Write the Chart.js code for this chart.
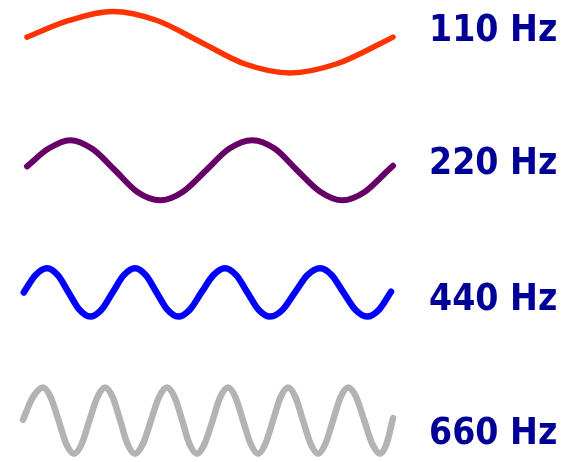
<!DOCTYPE html>
<html>
<head>
<meta charset="utf-8">
<script src="https://cdn.jsdelivr.net/npm/chart.js@4/dist/chart.umd.min.js"></script>
<style>
  html, body { margin: 0; padding: 0; background: #fff; }
  #wrap { width: 564px; height: 462px; position: relative; }
</style>
</head>
<body>
<div id="wrap"><canvas id="waves"></canvas></div>
<script>
// labels on the right
const freqLabels = ["110 Hz", "220 Hz", "440 Hz", "660 Hz"];

const t110 = [0, 1.05, 2.15, 3.25, 4.35, 5.45, 6.58, 7.73, 8.9, 9.15];
const v110 = [0.16, 0.68, 0.96, 0.68, 0, -0.68, -0.96, -0.68, 0, 0.16];

const t220 = [0, 0.53, 1.08, 1.63, 2.2, 2.75, 3.33, 3.9, 4.48, 5.05, 5.63, 6.2, 6.75, 7.33, 7.88, 8.45, 9.03, 9.15];
const v220 = [0.12, 0.67, 0.94, 0.67, 0, -0.67, -0.94, -0.67, 0, 0.67, 0.94, 0.67, 0, -0.67, -0.94, -0.67, 0, 0.14];

const t440 = [-0.08, 0.21, 0.5, 0.77, 1.04, 1.31, 1.58, 1.86, 2.14, 2.42, 2.7, 2.97, 3.24, 3.51, 3.78, 4.07,
  4.36, 4.66, 4.95, 5.23, 5.51, 5.79, 6.08, 6.39, 6.7, 7.01, 7.33, 7.62, 7.91, 8.21, 8.5, 8.8, 9.1];
const v440 = [0, 0.54, 0.755, 0.54, 0, -0.54, -0.755, -0.54, 0, 0.54, 0.755, 0.54, 0, -0.54, -0.755, -0.54,
  0, 0.54, 0.755, 0.54, 0, -0.54, -0.755, -0.54, 0, 0.54, 0.755, 0.54, 0, -0.54, -0.755, -0.54, 0.02];

const t660 = [-0.1, 0.15, 0.4, 0.59, 0.79, 0.98, 1.18, 1.37, 1.56, 1.76, 1.95, 2.14, 2.33, 2.51, 2.7, 2.9,
  3.1, 3.3, 3.5, 3.69, 3.88, 4.06, 4.25, 4.44, 4.64, 4.83, 5.03, 5.21, 5.4, 5.59, 5.78, 5.96,
  6.15, 6.34, 6.53, 6.71, 6.9, 7.09, 7.28, 7.46, 7.65, 7.84, 8.03, 8.23, 8.43, 8.63, 8.83, 8.99, 9.15];
const v660 = [0.02, 0.73, 1.03, 0.73, 0, -0.73, -1.04, -0.73, 0, 0.73, 1.03, 0.73, 0, -0.73, -1.04, -0.73,
  0, 0.73, 1.03, 0.73, 0, -0.73, -1.04, -0.73, 0, 0.73, 1.03, 0.73, 0, -0.73, -1.04, -0.73,
  0, 0.73, 1.03, 0.73, 0, -0.73, -1.04, -0.73, 0, 0.73, 1.03, 0.73, 0, -0.73, -1.04, -0.73, 0.07];

// each wave sits on its own row, label ticks a bit off the wave centre
const rowOffset = [5.9, 1.9, -1.92, -5.92];
const labelAt = [6.23, 2.08, -2.16, -6.36];

const series = [
  { t: t110, v: v110, color: "#ff3300", width: 5.5 },
  { t: t220, v: v220, color: "#660066", width: 6 },
  { t: t440, v: v440, color: "#0000ff", width: 6.5 },
  { t: t660, v: v660, color: "#b3b3b3", width: 6.5 }
];

const datasets = series.map((s, k) => ({
  label: freqLabels[k],
  data: s.t.map((x, i) => ({ x: x, y: rowOffset[k] + s.v[i] })),
  borderColor: s.color,
  borderWidth: s.width,
  borderCapStyle: "round",
  borderJoinStyle: "round",
  cubicInterpolationMode: "monotone",
  pointRadius: 0,
  fill: false,
  clip: false
}));

new Chart(document.getElementById("waves"), {
  type: "line",
  data: { datasets: datasets },
  options: {
    responsive: true,
    maintainAspectRatio: false,
    animation: false,
    layout: { padding: { left: 23, right: 0, top: 0, bottom: 0 } },
    plugins: { legend: { display: false }, tooltip: { enabled: false } },
    scales: {
      x: { type: "linear", min: -0.1, max: 9.15, display: false },
      y: {
        position: "right",
        min: -7.22,
        max: 7.22,
        grid: { display: false, drawTicks: false },
        border: { display: false },
        afterBuildTicks: (s) => { s.ticks = labelAt.map(v => ({ value: v })); },
        afterFit: (s) => {
          s.width = 171;
          // keep the full height for the waves
          s.paddingTop = 0;
          s.paddingBottom = 0;
        },
        ticks: {
          autoSkip: false,
          padding: 36,
          color: "#000096",
          font: { family: "'DejaVu Sans Condensed', 'DejaVu Sans', sans-serif", size: 37, weight: "bold" },
          callback: (v, i) => freqLabels[i]
        }
      }
    }
  }
});
</script>
</body>
</html>
